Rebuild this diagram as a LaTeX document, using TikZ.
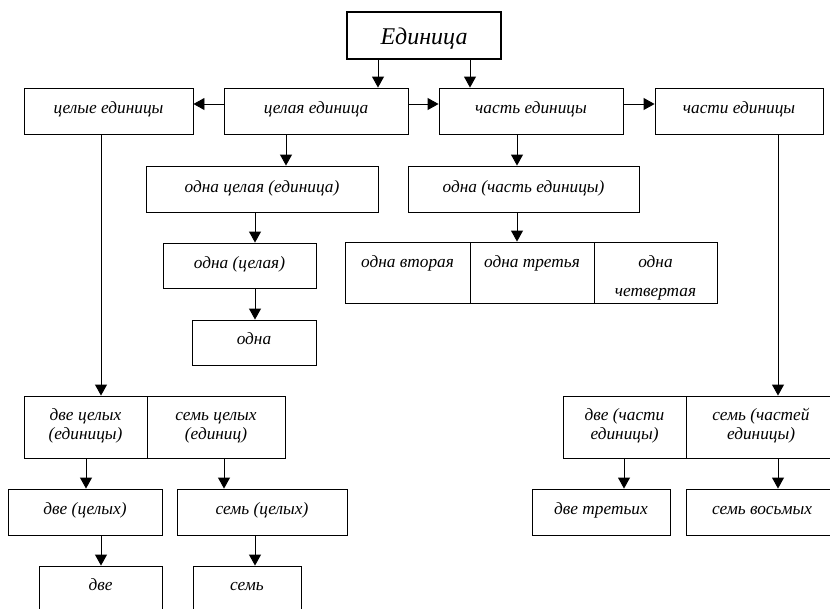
\documentclass[tikz,border=0pt]{standalone}
\usepackage{fontspec}
\setmainfont{Liberation Serif}
\usetikzlibrary{arrows.meta}
\newcommand{\bt}[2]{\raisebox{#1}[0pt][0pt]{\begin{tabular}[t]{@{}c@{}}#2\end{tabular}}}
\begin{document}
\begin{tikzpicture}[x=1pt,y=-1pt,
  box/.style={draw, line width=0.9pt, rectangle, inner sep=0pt,
    font=\fontsize{17.3}{19}\selectfont\itshape},
  topbox/.style={draw, line width=2.6pt, rectangle, inner sep=0pt,
    font=\fontsize{24}{28}\selectfont\itshape},
  arr/.style={line width=0.9pt, -{Triangle[width=12pt,length=11pt]}}]
\useasboundingbox (0,0) rectangle (830,608);
\fill[white] (0,0) rectangle (830,608);
% top
\node[topbox, minimum width=154pt, minimum height=47pt] (E) at (424,35.5) {\bt{-9pt}{Единица}};
% row 1
\node[box, minimum width=169pt, minimum height=46pt] (A) at (108.5,111) {\bt{-2pt}{целые единицы}};
\node[box, minimum width=184pt, minimum height=46pt] (B) at (316,111) {\bt{-2pt}{целая единица}};
\node[box, minimum width=184pt, minimum height=46pt] (C) at (531,111) {\bt{-2pt}{часть единицы}};
\node[box, minimum width=168pt, minimum height=46pt] (D) at (739,111) {\bt{-2pt}{части единицы}};
% row 2
\node[box, minimum width=232pt, minimum height=46pt] (F) at (262,189) {\bt{-3pt}{одна целая (единица)}};
\node[box, minimum width=231pt, minimum height=46pt] (G) at (523.5,189) {\bt{-3pt}{одна (часть единицы)}};
% row 3
\node[box, minimum width=153pt, minimum height=45pt] (H) at (239.5,265.5) {\bt{-3pt}{одна (целая)}};
\node[box, minimum width=125pt, minimum height=61pt] (I1) at (407.5,272.5) {\bt{5.5pt}{одна вторая}};
\node[box, minimum width=124pt, minimum height=61pt] (I2) at (532,272.5) {\bt{5.5pt}{одна третья}};
\node[box, minimum width=123pt, minimum height=61pt] (I3) at (655.5,272.5) {\bt{5.5pt}{одна\\[10pt]четвертая}};
% row 4
\node[box, minimum width=124pt, minimum height=45pt] (J) at (254,342.5) {\bt{-1.5pt}{одна}};
% row 5
\node[box, minimum width=123pt, minimum height=62pt] (K1) at (85.5,427) {\bt{6.5pt}{две целых\\(единицы)}};
\node[box, minimum width=138pt, minimum height=62pt] (K2) at (216,427) {\bt{6.5pt}{семь целых\\(единиц)}};
\node[box, minimum width=123pt, minimum height=62pt] (N1) at (624.5,427) {\bt{6.5pt}{две (части\\единицы)}};
\node[box, minimum width=150pt, minimum height=62pt] (N2) at (761,427) {\bt{6.5pt}{семь (частей\\единицы)}};
% row 6
\node[box, minimum width=154pt, minimum height=46pt] (L1) at (85,512) {\bt{-2pt}{две (целых)}};
\node[box, minimum width=170pt, minimum height=46pt] (L2) at (262,512) {\bt{-2pt}{семь (целых)}};
\node[box, minimum width=138pt, minimum height=46pt] (O1) at (601,512) {\bt{-2pt}{две третьих}};
\node[box, minimum width=152pt, minimum height=46pt] (O2) at (762,512) {\bt{-2pt}{семь восьмых}};
% row 7
\node[box, minimum width=123pt, minimum height=46pt] (M1) at (100.5,589) {\bt{-1pt}{две}};
\node[box, minimum width=108pt, minimum height=46pt] (M2) at (247,589) {\bt{-1pt}{семь}};
% connectors
\draw[arr] ([xshift=-46pt]E.south) -- ([xshift=62pt]B.north);
\draw[arr] ([xshift=46pt]E.south) -- ([xshift=-61pt]C.north);
\draw[arr] ([yshift=7pt]B.west) -- ([yshift=7pt]A.east);
\draw[arr] ([yshift=7pt]B.east) -- ([yshift=7pt]C.west);
\draw[arr] ([yshift=7pt]C.east) -- ([yshift=7pt]D.west);
\draw[arr] ([xshift=-30pt]B.south) -- ([xshift=24pt]F.north);
\draw[arr] ([xshift=-14pt]C.south) -- ([xshift=-6.5pt]G.north);
\draw[arr] ([xshift=-7pt]F.south) -- ([xshift=15.5pt]H.north);
\draw[arr] ([xshift=-6.5pt]G.south) -- ([xshift=-15pt]I2.north);
\draw[arr] ([xshift=15.5pt]H.south) -- ([xshift=1pt]J.north);
\draw[arr] ([xshift=-7.5pt]A.south) -- ([xshift=15.5pt]K1.north);
\draw[arr] ([xshift=39pt]D.south) -- ([xshift=17pt]N2.north);
\draw[arr] ([xshift=0.5pt]K1.south) -- ([xshift=1pt]L1.north);
\draw[arr] ([xshift=8pt]K2.south) -- ([xshift=-38pt]L2.north);
\draw[arr] ([xshift=-0.5pt]N1.south) -- ([xshift=23pt]O1.north);
\draw[arr] ([xshift=17pt]N2.south) -- ([xshift=16pt]O2.north);
\draw[arr] ([xshift=16pt]L1.south) -- ([xshift=0.5pt]M1.north);
\draw[arr] ([xshift=-7pt]L2.south) -- ([xshift=8pt]M2.north);
\end{tikzpicture}
\end{document}
